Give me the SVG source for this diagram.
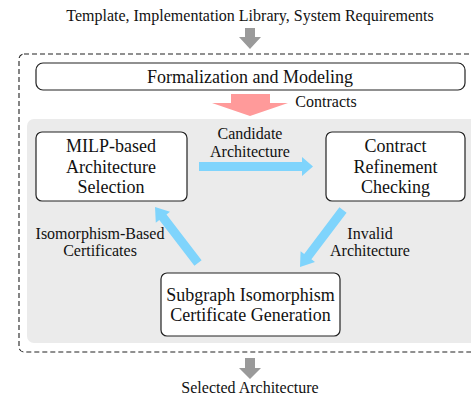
<svg xmlns="http://www.w3.org/2000/svg" width="471" height="396" viewBox="0 0 471 396">
<style>
text{font-family:"Liberation Serif","Times New Roman",serif;fill:#111;text-anchor:middle}
.lbl{font-size:16px}
.box{fill:#fff;stroke:#222;stroke-width:1.2}
.bt{font-size:18px}
.blue{fill:#7fd4fc}
.gray{fill:#9a9a9a}
</style>
<rect width="471" height="396" fill="#fff"/>
<text class="lbl" x="250" y="21">Template, Implementation Library, System Requirements</text>
<rect x="19" y="54" width="470" height="298" rx="5" fill="none" stroke="#222" stroke-width="1.1" stroke-dasharray="5,3"/>
<rect x="27" y="119" width="460" height="224" rx="7" fill="#ebebeb"/>
<g id="connectors">
<polygon class="gray" points="245,28 255,28 255,37 261,37 250,49 239,37 245,37"/>
<polygon fill="#ff9a9a" points="231,94 270,94 270,103 288,103 250,116 212,103 231,103"/>
<polygon class="blue" points="199,162 302,162 302,157 313,166.5 302,176 302,171 199,171"/>
<polygon class="blue" points="346.6,212.7 311.4,259.3 315,262 300,267 300.6,251.2 304.2,253.9 339.4,207.3"/>
<polygon class="blue" points="201.6,260.3 166.5,214.6 170,211.8 155,207 155.8,222.8 159.3,220 194.4,265.7"/>
<polygon class="gray" points="245,358 255,358 255,368 261,368 250,379 239,368 245,368"/>
<text class="lbl" x="326" y="107">Contracts</text>
<text class="lbl" x="250" y="139">Candidate</text>
<text class="lbl" x="250" y="157">Architecture</text>
<text class="lbl" x="100" y="239">Isomorphism-Based</text>
<text class="lbl" x="100" y="256">Certificates</text>
<text class="lbl" x="370" y="239">Invalid</text>
<text class="lbl" x="370" y="256">Architecture</text>
</g>
<g id="formalization">
<rect class="box" x="36" y="63" width="429" height="27" rx="7"/>
<text class="bt" x="250" y="83">Formalization and Modeling</text>
</g>
<g id="milp">
<rect class="box" x="36" y="132" width="151" height="69" rx="6"/>
<text class="bt" x="111" y="152">MILP-based</text>
<text class="bt" x="111" y="172.5">Architecture</text>
<text class="bt" x="111" y="193">Selection</text>
</g>
<g id="contract">
<rect class="box" x="326" y="132" width="139" height="69" rx="6"/>
<text class="bt" x="395.5" y="152">Contract</text>
<text class="bt" x="395.5" y="172.5">Refinement</text>
<text class="bt" x="395.5" y="193">Checking</text>
</g>
<g id="subgraph">
<rect class="box" x="161" y="273" width="179" height="63" rx="6"/>
<text class="bt" x="250.5" y="301">Subgraph Isomorphism</text>
<text class="bt" x="250.5" y="321">Certificate Generation</text>
</g>
<text class="lbl" x="250" y="393">Selected Architecture</text>
</svg>
